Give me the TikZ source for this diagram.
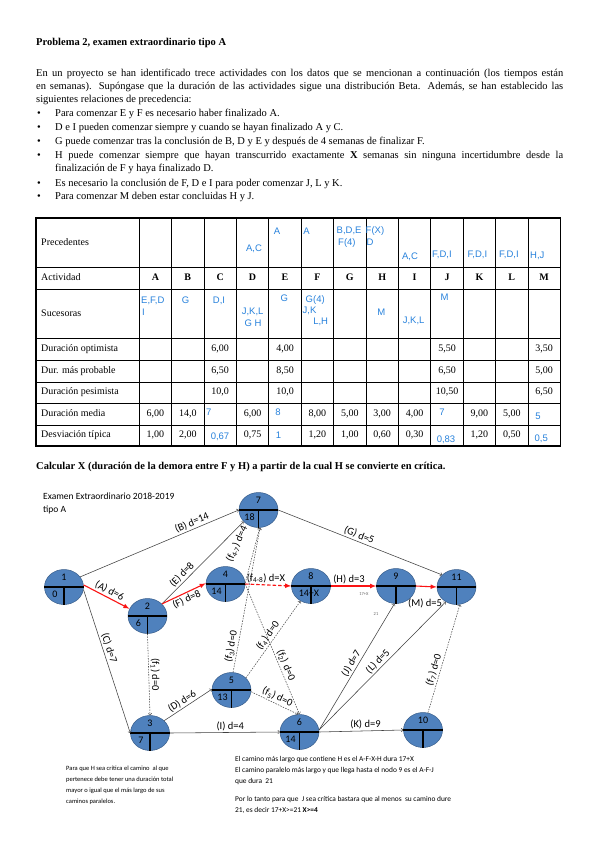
\documentclass[tikz,border=0pt]{standalone}
\usepackage{fontspec}
\setmainfont{Liberation Serif}
\newfontfamily\calfont{Carlito}
\newfontfamily\arialfont{Liberation Sans}
\usetikzlibrary{arrows}
\usetikzlibrary{shapes.geometric, math}
\definecolor{pertblue}{RGB}{79,129,189}
\definecolor{pertedge}{RGB}{56,93,138}
\definecolor{tabblue}{RGB}{40,130,220}
\definecolor{critred}{RGB}{250,20,20}

\tikzset{
  evnode/.style={ellipse, minimum width=39pt, minimum height=35pt, inner sep=0pt,
    fill=pertblue, draw=pertedge, line width=0.5pt},
  divline/.style={line width=1.1pt},
  numtxt/.style={font=\calfont\fontsize{10}{12}\selectfont, inner sep=0pt},
  lbl/.style={font=\calfont\fontsize{10.5}{12}\selectfont, inner sep=1.5pt},
  tinytxt/.style={font=\calfont\fontsize{4.5}{5}\selectfont, text=black!60, inner sep=0pt},
  notetxt/.style={font=\calfont\fontsize{6.5}{7}\selectfont, inner sep=0pt, anchor=mid west},
  bodytxt/.style={font=\fontsize{10.5}{12.6}\selectfont, inner sep=0pt, anchor=mid west},
  tabtxt/.style={font=\fontsize{10}{12}\selectfont, inner sep=0pt, anchor=mid},
  bluetxt/.style={font=\arialfont\fontsize{9.5}{11}\selectfont, text=tabblue, inner sep=0pt, anchor=mid},
  tabline/.style={line width=0.8pt},
  actedge/.style={draw=black!75, line width=0.55pt, -to},
  critedge/.style={draw=critred, line width=1.1pt, -latex},
  dummy/.style={draw=black!70, line width=0.55pt, dash pattern=on 1.5pt off 1.2pt, -to},
  critdummy/.style={draw=critred, line width=1.1pt, dash pattern=on 3.5pt off 2pt, -latex}
}

% event node: name, x, y, number
\newcommand{\pertnode}[4]{%
  \node[evnode] (#1) at (#2,#3) {};
  \draw[divline] (#1.west) -- (#1.east);
  \draw[divline] (#1.center) -- (#1.south);
  \node[numtxt] (#1-t) at ([shift={(0,-9.5)}]#1.center) {#4};
}

\begin{document}
\begin{tikzpicture}[x=1pt, y=-1pt]
\tikzmath{
\cx=139.2; \cw=32.4;
}
\fill[white] (0,0) rectangle (599,848);
\useasboundingbox (0,0) rectangle (599,848);

% statement
\node[bodytxt] (title) at (36,43) {\textbf{Problema 2, examen extraordinario tipo A}};
\node[bodytxt] (p1) at (36,74) {\makebox[527pt][s]{En un proyecto se han identificado trece actividades con los datos que se mencionan a continuación (los tiempos están}};
\node[bodytxt] (p2) at (36,87) {\makebox[527pt][s]{en semanas). Supóngase que la duración de las actividades sigue una distribución Beta. Además, se han establecido las}};
\node[bodytxt] (p3) at (36,100) {siguientes relaciones de precedencia:};
\foreach \y in {114,128,142,156,184,197}
  \node[bodytxt] (bul\y) at (37,\y) {\textbullet};
\node[bodytxt] (b1) at (55,114) {Para comenzar E y F es necesario haber finalizado A.};
\node[bodytxt] (b2) at (55,128) {D e I pueden comenzar siempre y cuando se hayan finalizado A y C.};
\node[bodytxt] (b3) at (55,142) {G puede comenzar tras la conclusión de B, D y E y después de 4 semanas de finalizar F.};
\node[bodytxt] (b4) at (55,156) {\makebox[508pt][s]{H puede comenzar siempre que hayan transcurrido exactamente \textbf{X} semanas sin ninguna incertidumbre desde la}};
\node[bodytxt] (b4b) at (55,169) {finalización de F y haya finalizado D.};
\node[bodytxt] (b5) at (55,184) {Es necesario la conclusión de F, D e I para poder comenzar J, L y K.};
\node[bodytxt] (b6) at (55,197) {Para comenzar M deben estar concluidas H y J.};

% table
\draw[line width=1.1pt] (36,218) rectangle ({\cx+13*\cw},446);
\foreach \y in {267,289,338,360,382,403,425}
  \draw[tabline] (36,\y) -- ({\cx+13*\cw},\y);
\foreach \i in {0,...,12}
  \draw[tabline] ({\cx+\i*\cw},218) -- ({\cx+\i*\cw},446);
\foreach \y/\t in {243/Precedentes, 278/Actividad, 314/Sucesoras, 349/Duración optimista,
    371/Dur. más probable, 392.5/Duración pesimista, 414/Duración media, 435.5/Desviación típica}
  \node[tabtxt, anchor=mid west] (row\y) at (41,\y) {\t};
\foreach \l [count=\i] in {A,...,M}
  \node[tabtxt] (act\i) at ({\cx+(\i-0.5)*\cw},278) {\textbf{\l}};
\foreach \i/\a/\b/\c in {3/{6,00}/{6,50}/{10,0}, 5/{4,00}/{8,50}/{10,0},
    10/{5,50}/{6,50}/{10,50}, 13/{3,50}/{5,00}/{6,50}} {
  \node[tabtxt] (opt\i) at ({\cx+(\i-0.5)*\cw},349) {\a};
  \node[tabtxt] (mp\i) at ({\cx+(\i-0.5)*\cw},371) {\b};
  \node[tabtxt] (pes\i) at ({\cx+(\i-0.5)*\cw},392.5) {\c};
}
\foreach \i/\v in {1/{6,00}, 2/{14,0}, 4/{6,00}, 6/{8,00}, 7/{5,00}, 8/{3,00}, 9/{4,00}, 11/{9,00}, 12/{5,00}}
  \node[tabtxt] (med\i) at ({\cx+(\i-0.5)*\cw},414) {\v};
\foreach \i/\v in {1/{1,00}, 2/{2,00}, 4/{0,75}, 6/{1,20}, 7/{1,00}, 8/{0,60}, 9/{0,30}, 11/{1,20}, 12/{0,50}}
  \node[tabtxt] (dt\i) at ({\cx+(\i-0.5)*\cw},435.5) {\v};

% handwritten answers
\node[bluetxt] (prD) at (254,249) {A,C};
\node[bluetxt] (prE) at (277,232) {A};
\node[bluetxt] (prF) at (306.5,232) {A};
\node[bluetxt, anchor=mid west] (prG) at (336.5,231) {B,D,E};
\node[bluetxt, anchor=mid west] (prG2) at (338,243) {F(4)};
\node[bluetxt, anchor=mid west] (prH) at (365.5,231) {F(X)};
\node[bluetxt, anchor=mid west] (prH2) at (366.3,243) {D};
\node[bluetxt] (prI) at (410,257) {A,C};
\node[bluetxt, anchor=mid west] (prJ) at (432,255) {F,D,I};
\node[bluetxt, anchor=mid west] (prK) at (467.5,255) {F,D,I};
\node[bluetxt, anchor=mid west] (prL) at (499,255) {F,D,I};
\node[bluetxt, anchor=mid west] (prM) at (530,256) {H,J};
\node[bluetxt, anchor=mid west] (suA) at (141,301) {E,F,D};
\node[bluetxt, anchor=mid west] (suA2) at (142,313) {I};
\node[bluetxt] (suB) at (185.5,301) {G};
\node[bluetxt] (suC) at (219,301) {D,I};
\node[bluetxt] (suD) at (252.6,312) {J,K,L};
\node[bluetxt] (suD2) at (253,324) {G H};
\node[bluetxt] (suE) at (284.4,299) {G};
\node[bluetxt] (suF) at (315.2,300) {G(4)};
\node[bluetxt] (suF2) at (309.6,311) {J,K};
\node[bluetxt] (suF3) at (320.7,322) {L,H};
\node[bluetxt] (suH) at (381.3,313) {M};
\node[bluetxt] (suI) at (413.6,321) {J,K,L};
\node[bluetxt] (suJ) at (444.7,298) {M};
\node[bluetxt, anchor=mid west] (meC) at (206,413) {7};
\node[bluetxt] (meE) at (278,413) {8};
\node[bluetxt] (meJ) at (442,413) {7};
\node[bluetxt] (meM) at (538,417) {5};
\node[bluetxt] (dtC) at (220,437) {0,67};
\node[bluetxt] (dtE) at (278.4,436) {1};
\node[bluetxt] (dtJ) at (446,440) {0,83};
\node[bluetxt] (dtM) at (541.3,439) {0,5};

\node[bodytxt] (calc) at (36,467) {\textbf{Calcular X (duración de la demora entre F y H) a partir de la cual H se convierte en crítica.}};

% network
\node[numtxt, anchor=mid west, font=\calfont\fontsize{9.5}{11}\selectfont] (exam) at (43,497) {Examen Extraordinario 2018-2019};
\node[numtxt, anchor=mid west, font=\calfont\fontsize{9.5}{11}\selectfont] (tipo) at (43,510) {tipo A};

\pertnode{n1}{64}{587}{1}
\pertnode{n2}{147.5}{616}{2}
\pertnode{n3}{150}{733}{3}
\pertnode{n4}{225.5}{584}{4}
\pertnode{n5}{231.5}{690}{5}
\pertnode{n6}{299.5}{732}{6}
\pertnode{n7}{258.5}{510}{7}
\pertnode{n8}{311}{586}{8}
\pertnode{n9}{396}{586}{9}
\pertnode{n10}{423}{730}{10}
\pertnode{n11}{456.5}{587}{11}
\foreach \n/\v in {n1/0, n2/6, n3/7, n4/14, n5/13, n6/14, n7/18}
  \node[numtxt] (\n-b) at ([shift={(-9,7.5)}]\n.center) {\v};
\node[numtxt] (n8-b) at ([shift={(-2,7.5)}]n8.center) {14+X};

\draw[actedge] (n1.32) -- node[lbl, pos=.72, above, sloped] (lB) {(B) d=14} (n7.west);
\draw[critedge] (n1.6) -- node[lbl, pos=.5, above, sloped] (lA) {(A) d=6} (n2.158);
\draw[actedge] (n1.-8) -- node[lbl, pos=.42, above, sloped] (lC) {(C) d=7} (n3.west);
\draw[actedge] (n2.40) -- node[lbl, pos=.3, above, sloped] (lE) {(E) d=8} (n7.218);
\draw[critedge] (n2.40) -- node[lbl, pos=.5, below, sloped] (lF) {(F) d=8} (n4.178);
\draw[dummy] (n2.south) -- node[lbl, pos=.5, anchor=south, rotate=-90] (lf1) {(f\textsubscript{1}) d=0} (n3.north);
\draw[actedge] (n3.41) -- node[lbl, pos=.45, above, sloped] (lD) {(D) d=6} (n5.178);
\draw[actedge] (n3.east) -- node[lbl, pos=.55, above] (lI) {(I)\ d=4} (n6.west);
\draw[dummy] (n5.85) -- node[lbl, pos=.17, above, sloped] (lf3) {(f\textsubscript{3}) d=0} (n7.-85);
\draw[dummy] (n4.3) -- (n7.-86);
\node[lbl, rotate=66] (lf47) at (237,544) {(f\textsubscript{4-7}) d=4};
\draw[dummy] (n5.40) -- node[lbl, pos=.5, above, sloped] (lf4) {(f\textsubscript{4}) d=0} (n8.235);
\draw[dummy] (n5.-5) -- node[lbl, pos=.5, above, sloped] (lf5) {(f\textsubscript{5})\ d=0} (n6.95);
\draw[dummy] (n4.east) -- node[lbl, pos=.64, above, sloped] (lf2) {(f\textsubscript{2}) d=0} (n6.90);
\draw[critdummy] (n4.east) -- node[lbl, pos=.45, above] (lf48) {(f\textsubscript{4-8})\ d=X} (n8.west);
\draw[critedge] (n8.east) -- node[lbl, pos=.4, above] (lH) {(H)\ d=3} (n9.west);
\draw[critedge] (n9.east) -- (n11.west);
\draw[actedge] (n7.east) -- node[lbl, pos=.48, above, sloped] (lG) {(G) d=5} (n11.140);
\draw[actedge] (n6.6) -- node[lbl, pos=.5, above, sloped] (lJ) {(J) d=7} (n9.-95);
\draw[actedge] (n6.6) -- node[lbl, pos=.5, above, sloped] (lL) {(L) d=5} (n11.234);
\draw[actedge] (n6.east) -- node[lbl, pos=.55, above] (lK) {(K)\ d=9} (n10.west);
\draw[dummy] (n10.74) -- node[lbl, pos=.38, above, sloped] (lf7) {(f\textsubscript{7}) d=0} (n11.-79);
\node[lbl] (lM) at (425,603) {(M)\ d=5};
\node[tinytxt] (l17) at (364,594) {17+X};
\node[tinytxt] (l21) at (376,614) {21};

% notes
\node[notetxt] (nl1) at (66,768) {Para que H sea crítica el camino \ al que};
\node[notetxt] (nl2) at (66,779) {pertenece debe tener una duración total};
\node[notetxt] (nl3) at (66,790) {mayor o igual que el más largo de sus};
\node[notetxt] (nl4) at (66,801) {caminos paralelos.};
\begin{scope}[notetxt/.append style={font=\calfont\fontsize{7.4}{8}\selectfont}]
\node[notetxt] (nr1) at (235,759) {El camino más largo que contiene H es el A-F-X-H dura 17+X};
\node[notetxt] (nr2) at (235,770) {El camino paralelo más largo y que llega hasta el nodo 9 es el A-F-J};
\node[notetxt] (nr3) at (235,781) {que dura \ 21};
\node[notetxt] (nr4) at (235,799) {Por lo tanto para que \ J sea crítica bastara que al menos \ su camino dure};
\node[notetxt] (nr5) at (235,810) {21, es decir 17+X>=21 \textbf{X>=4}};
\end{scope}
\end{tikzpicture}
\end{document}
